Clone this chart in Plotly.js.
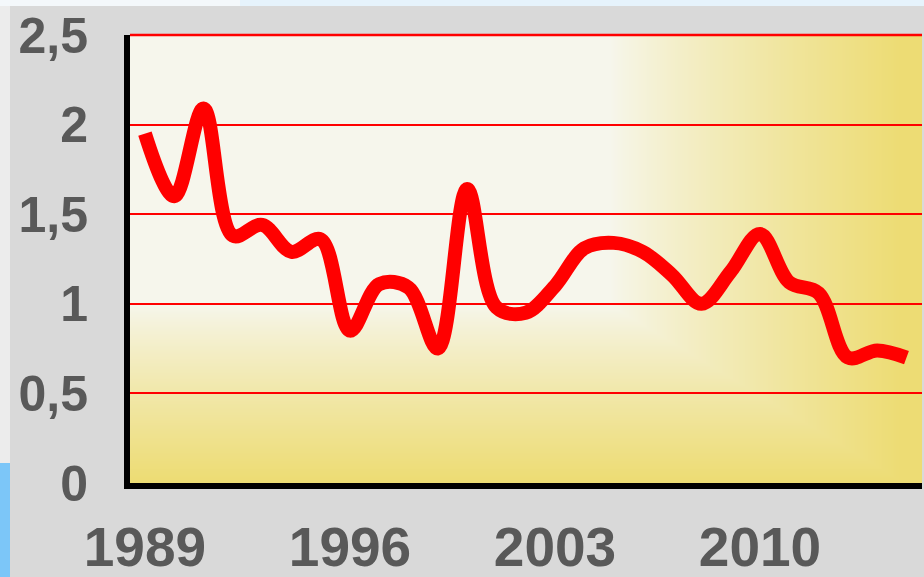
<!DOCTYPE html>
<html><head><meta charset="utf-8">
<script src="https://cdn.plot.ly/plotly-3.0.1.min.js"></script>
<style>html,body{margin:0;padding:0;background:#d9d9d9;overflow:hidden}</style>
</head><body><div id="chart" style="width:924px;height:577px"></div>
<script>
const years = [1989,1990,1991,1992,1993,1994,1995,1996,1997,1998,1999,2000,2001,2002,2003,2004,2005,2006,2007,2008,2009,2010,2011,2012,2013,2014,2015];
const values = [1.95,1.60,2.09,1.38,1.44,1.29,1.36,0.85,1.11,1.09,0.75,1.64,0.98,0.95,1.10,1.31,1.34,1.29,1.16,1.00,1.18,1.39,1.12,1.06,0.70,0.74,0.70];
const xTickVals = [1989,1996,2003,2010];
const xTickText = ['1989','1996','2003','2010'];
const yTickVals = [0,0.5,1,1.5,2,2.5];
const yTickText = ['0','0,5','1','1,5','2','2,5'];

// plot-area background: rectangular path gradient (pale top-left -> yellow bottom/right)
function makeGradient(w, h) {
  const c = document.createElement('canvas');
  c.width = w; c.height = h;
  const ctx = c.getContext('2d');
  const img = ctx.createImageData(w, h);
  const c0 = [246,246,236], c1 = [237,220,116];
  for (let y = 0; y < h; y++) {
    const ty = Math.min(1, Math.max(0, (y - 270) / (445 - 270)));
    for (let x = 0; x < w; x++) {
      const tx = Math.min(1, Math.max(0, (x - 480) / (770 - 480)));
      let t = Math.max(tx, ty);
      t = Math.pow(t, 0.85);
      const i = (y * w + x) * 4;
      img.data[i]   = Math.round(c0[0] + (c1[0]-c0[0]) * t);
      img.data[i+1] = Math.round(c0[1] + (c1[1]-c0[1]) * t);
      img.data[i+2] = Math.round(c0[2] + (c1[2]-c0[2]) * t);
      img.data[i+3] = 255;
    }
  }
  ctx.putImageData(img, 0, 0);
  return c.toDataURL('image/png');
}

const L = 130, R = 2, T = 35, B = 94, W = 924, H = 577;
const pw = W - L - R, ph = H - T - B;
const px = v => (v - L) / pw;
const py = v => (H - B - v) / ph;

const trace = {
  x: years, y: values, type: 'scatter', mode: 'lines',
  line: {color: '#ff0000', width: 14, shape: 'spline', smoothing: 1},
  hoverinfo: 'skip'
};

const tickFontY = {family: '"Liberation Sans", Arial, sans-serif', size: 50, color: '#595959', weight: 'bold'};
const tickFontX = {family: '"Liberation Sans", Arial, sans-serif', size: 55, color: '#595959', weight: 'bold'};

const layout = {
  width: W, height: H,
  margin: {l: L, r: R, t: T, b: B, pad: 0},
  paper_bgcolor: '#d9d9d9',
  plot_bgcolor: 'rgba(0,0,0,0)',
  showlegend: false,
  xaxis: {
    range: [1988.49, 2015.53], tickvals: xTickVals, ticktext: xTickText,
    showgrid: false, zeroline: false,
    showline: true, linecolor: '#000000', linewidth: 6,
    ticks: 'outside', ticklen: 11, tickcolor: 'rgba(0,0,0,0)',
    tickfont: tickFontX, fixedrange: true
  },
  yaxis: {
    range: [0, 2.5], tickvals: yTickVals, ticktext: yTickText,
    showgrid: true, gridcolor: '#ff0000', gridwidth: 2, zeroline: false,
    showline: true, linecolor: '#000000', linewidth: 6,
    ticks: 'outside', ticklen: 26, tickcolor: 'rgba(0,0,0,0)',
    tickfont: tickFontY, fixedrange: true
  },
  images: [{
    source: makeGradient(pw, ph), xref: 'paper', yref: 'paper',
    x: 0, y: 1, sizex: 1, sizey: 1, xanchor: 'left', yanchor: 'top',
    sizing: 'stretch', layer: 'below'
  }],
  shapes: [
    {type: 'rect', xref: 'paper', yref: 'paper', x0: px(0), x1: px(10), y0: py(577), y1: py(0), fillcolor: '#ececec', line: {width: 0}, layer: 'below'},
    {type: 'rect', xref: 'paper', yref: 'paper', x0: px(0), x1: px(10), y0: py(577), y1: py(463), fillcolor: '#7cc6f8', line: {width: 0}, layer: 'below'},
    {type: 'rect', xref: 'paper', yref: 'paper', x0: px(0), x1: px(924), y0: py(6), y1: py(0), fillcolor: '#f4f8fb', line: {width: 0}, layer: 'below'},
    {type: 'rect', xref: 'paper', yref: 'paper', x0: px(240), x1: px(924), y0: py(6), y1: py(0), fillcolor: '#e6f3fc', line: {width: 0}, layer: 'below'},
    {type: 'line', xref: 'paper', yref: 'paper', x0: px(133), x1: px(922), y0: py(487), y1: py(487), line: {color: '#8a8a8a', width: 1.5}, layer: 'below'},
    {type: 'line', xref: 'paper', yref: 'paper', x0: 0, x1: 1, y0: 1, y1: 1, line: {color: '#ff0000', width: 2.5}, layer: 'below'}
  ]
};

Plotly.newPlot('chart', [trace], layout, {displayModeBar: false, staticPlot: true});
</script>
</body></html>
